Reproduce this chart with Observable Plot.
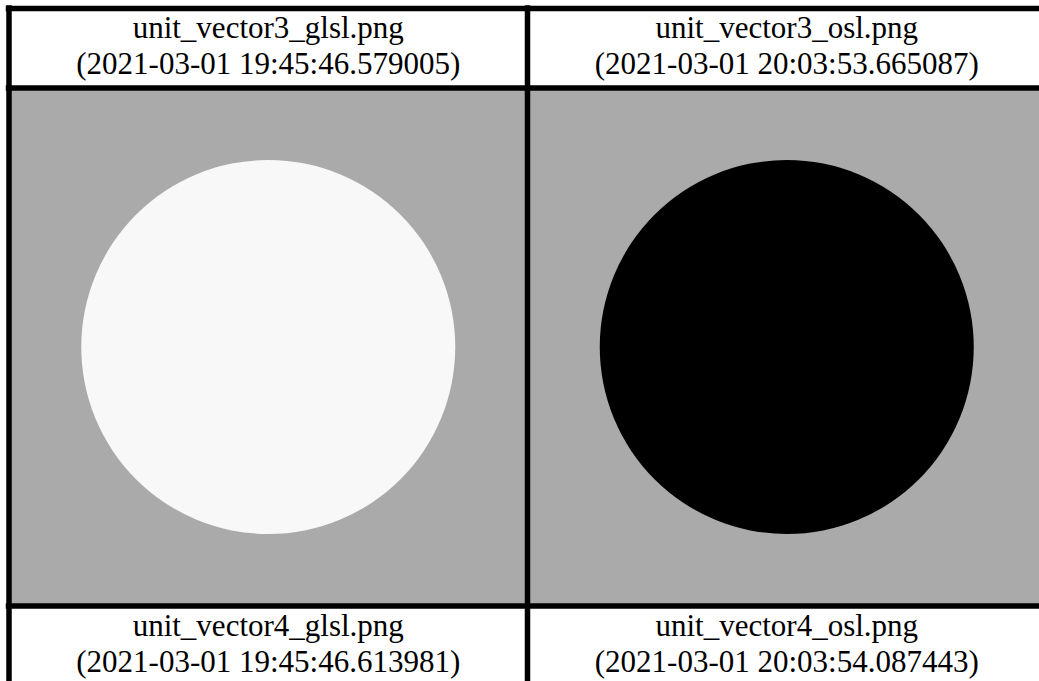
<!DOCTYPE html>
<html>
<head>
<meta charset="utf-8">
<script src="https://cdn.jsdelivr.net/npm/d3@7"></script>
<script src="https://cdn.jsdelivr.net/npm/@observablehq/plot@0.6"></script>
<style>
html, body { margin: 0; padding: 0; background: #ffffff; overflow: hidden; }
#chart svg { display: block; }
</style>
</head>
<body>
<div id="chart"></div>
<script>
// ---- data ----
const fileNames = [
  "unit_vector3_glsl.png",
  "unit_vector3_osl.png",
  "unit_vector4_glsl.png",
  "unit_vector4_osl.png"
];
const timestamps = [
  "2021-03-01 19:45:46.579005",
  "2021-03-01 20:03:53.665087",
  "2021-03-01 19:45:46.613981",
  "2021-03-01 20:03:54.087443"
];
const gridColumns = [0, 1, 0, 1];
const gridRows = [0, 0, 1, 1];
// value of the rendered disc in each image (1 = white, 0 = black); bottom row is cropped out of view
const diskLevels = [1, 0, null, null];

// ---- layout ----
const W = 1039, H = 681;
const TOP = 8;          // centre of the top border line
const HEADER = 79.5;    // caption cell height
const IMAGE = 518;      // image cell height
const DISK_R = 187;     // disc radius (px)
const FONT = "'Liberation Serif', 'Times New Roman', serif";

const rowTop = r => TOP + r * (HEADER + IMAGE);

const panels = fileNames.map((name, i) => ({
  name,
  time: `(${timestamps[i]})`,
  col: gridColumns[i],
  row: gridRows[i],
  level: diskLevels[i]
}));

const rowsCount = d3.max(gridRows) + 1;
const colsCount = d3.max(gridColumns) + 1;
const hLines = [];
for (let r = 0; r < rowsCount; r++) { hLines.push(rowTop(r)); hLines.push(rowTop(r) + HEADER); }
hLines.push(rowTop(rowsCount));
const vLines = d3.range(colsCount + 1);

const chart = Plot.plot({
  width: W,
  height: H,
  margin: 0,
  x: { domain: [0, colsCount], range: [8.5, 1045.5], axis: null },
  y: { domain: [0, H], range: [0, H], axis: null },
  color: { type: "linear", domain: [0, 1], range: ["#000000", "#f8f8f8"] },
  style: { background: "#ffffff" },
  marks: [
    Plot.rect(panels, {
      x1: d => d.col, x2: d => d.col + 1,
      y1: d => rowTop(d.row) + HEADER, y2: d => rowTop(d.row) + HEADER + IMAGE,
      fill: "#aaaaaa"
    }),
    Plot.dot(panels.filter(d => d.level != null), {
      x: d => d.col + 0.5,
      y: d => rowTop(d.row) + HEADER + IMAGE / 2,
      r: DISK_R,
      fill: d => d.level,
      stroke: null
    }),
    Plot.ruleY(hLines, { y: d => d, x1: 0, x2: colsCount, stroke: "#000", strokeWidth: 5.5, strokeLinecap: "square" }),
    Plot.ruleX(vLines, { x: d => d, y1: TOP, y2: rowTop(rowsCount), stroke: "#000", strokeWidth: 5.5, strokeLinecap: "square" }),
    Plot.text(panels, {
      x: d => d.col + 0.5, y: d => rowTop(d.row) + 19.8,
      text: "name", fontSize: 31, fontFamily: FONT, fill: "#000", lineAnchor: "middle"
    }),
    Plot.text(panels, {
      x: d => d.col + 0.5, y: d => rowTop(d.row) + 55.6,
      text: "time", fontSize: 31, fontFamily: FONT, fill: "#000", lineAnchor: "middle"
    })
  ]
});
document.getElementById("chart").appendChild(chart);
</script>
</body>
</html>
